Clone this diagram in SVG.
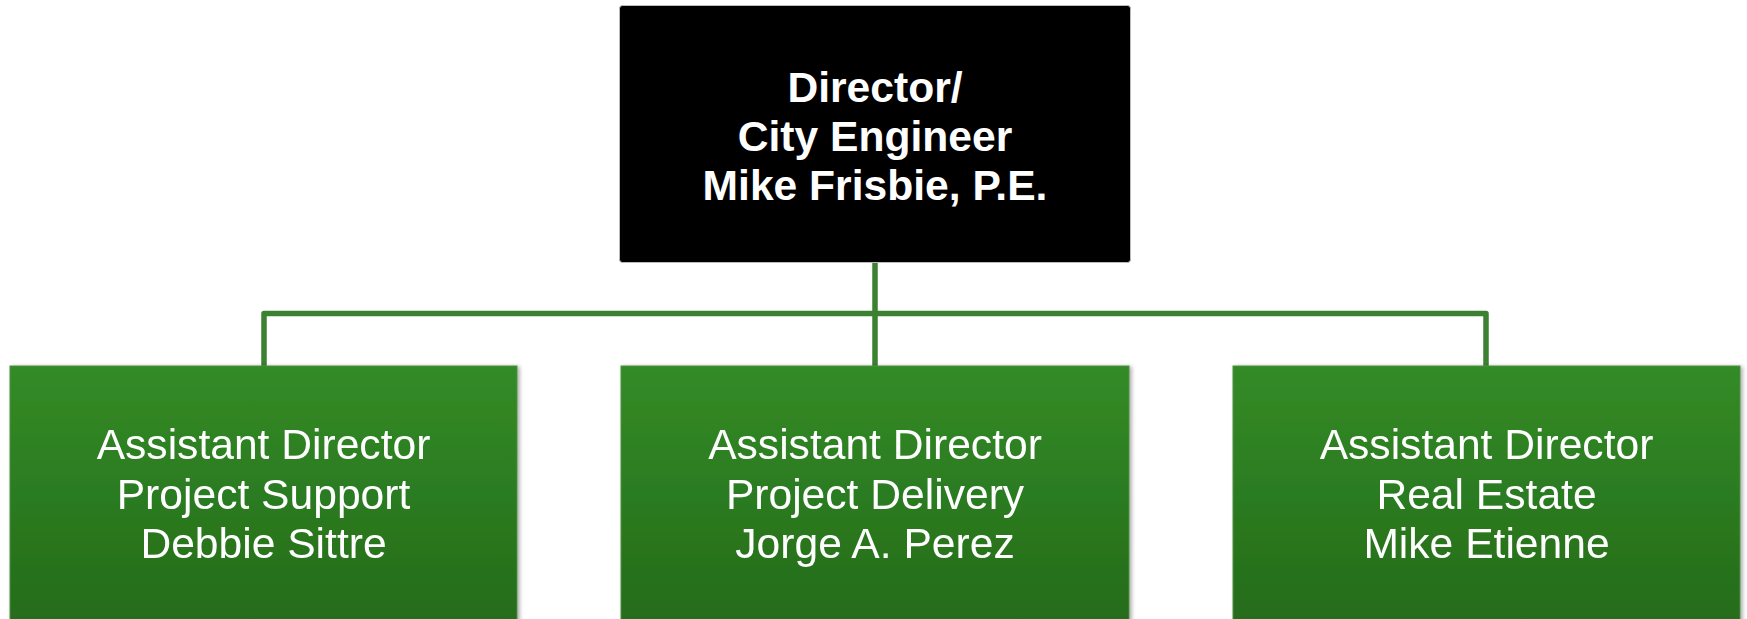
<svg xmlns="http://www.w3.org/2000/svg" width="1747" height="619" viewBox="0 0 1747 619">
  <defs>
    <linearGradient id="gr" x1="0" y1="0" x2="0" y2="1">
      <stop offset="0" stop-color="#338b26"/>
      <stop offset="1" stop-color="#246a1a"/>
    </linearGradient>
    <filter id="sh" x="-5%" y="-5%" width="110%" height="110%">
      <feGaussianBlur in="SourceAlpha" stdDeviation="2"/>
      <feOffset dx="2" dy="1" result="b"/>
      <feComponentTransfer><feFuncA type="linear" slope="0.35"/></feComponentTransfer>
      <feMerge><feMergeNode/><feMergeNode in="SourceGraphic"/></feMerge>
    </filter>
  </defs>
  <style>
    .conn { stroke: #3c8131; stroke-width: 5.5; fill: none; stroke-linejoin: round; }
    .sub { fill: url(#gr); stroke: #4f8f45; stroke-width: 1; }
    .top { fill: #000; stroke: #bbbbbb; stroke-width: 1; }
    .tt { font-family: "Liberation Sans", Arial, sans-serif; font-weight: bold; font-size: 42.6px; fill: #fff; text-anchor: middle; }
    .st { font-family: "Liberation Sans", Arial, sans-serif; font-size: 42.6px; fill: #fff; text-anchor: middle; }
  </style>
  <rect width="1747" height="619" fill="#fff"/>
  <g id="connectors">
    <path class="conn" d="M875 262 V313.5"/>
    <path class="conn" d="M264 366 V313.5 H1486 V366"/>
    <path class="conn" d="M875 313.5 V366"/>
  </g>
  <g id="director">
    <rect class="top" x="619.5" y="5.5" width="511" height="257" rx="3"/>
    <text class="tt" x="875" y="101.5">Director/</text>
    <text class="tt" x="875" y="150.5">City Engineer</text>
    <text class="tt" x="875" y="200">Mike Frisbie, P.E.</text>
  </g>
  <g id="support" filter="url(#sh)">
    <rect class="sub" x="10" y="366" width="507" height="270"/>
    <text class="st" x="263.5" y="459">Assistant Director</text>
    <text class="st" x="263.5" y="508.5">Project Support</text>
    <text class="st" x="263.5" y="558">Debbie Sittre</text>
  </g>
  <g id="delivery" filter="url(#sh)">
    <rect class="sub" x="621" y="366" width="508" height="270"/>
    <text class="st" x="875" y="459">Assistant Director</text>
    <text class="st" x="875" y="508.5">Project Delivery</text>
    <text class="st" x="875" y="558">Jorge A. Perez</text>
  </g>
  <g id="realestate" filter="url(#sh)">
    <rect class="sub" x="1233" y="366" width="507" height="270"/>
    <text class="st" x="1486.5" y="459">Assistant Director</text>
    <text class="st" x="1486.5" y="508.5">Real Estate</text>
    <text class="st" x="1486.5" y="558">Mike Etienne</text>
  </g>
</svg>
